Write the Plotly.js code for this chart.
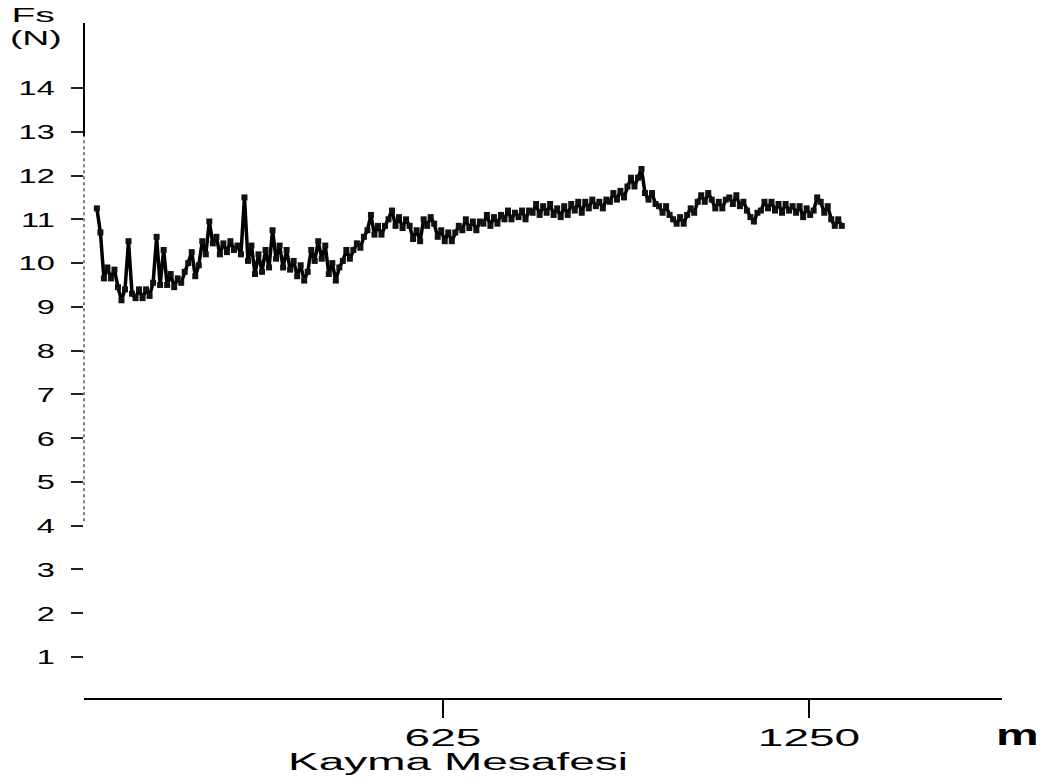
<!DOCTYPE html>
<html>
<head>
<meta charset="utf-8">
<script src="https://cdn.plot.ly/plotly-3.0.1.min.js"></script>
<style>
  html, body { margin: 0; padding: 0; background: #fff; }
  #chart { width: 1051px; height: 783px; }
</style>
</head>
<body>
<div id="chart"></div>
<script>
// Sliding distance (m): evenly spaced samples
const distStart = 34;
const distStep = 6;

// Friction force Fs (N)
const forceValues = [
  11.25, 10.7, 9.65, 9.9, 9.65, 9.85, 9.45, 9.15, 9.4, 10.5,
  9.3, 9.2, 9.4, 9.2, 9.4, 9.25, 9.55, 10.6, 9.5, 10.3,
  9.5, 9.75, 9.45, 9.65, 9.55, 9.8, 10.0, 10.25, 9.7, 9.95,
  10.5, 10.2, 10.95, 10.45, 10.6, 10.2, 10.45, 10.25, 10.5, 10.3,
  10.4, 10.2, 11.5, 10.05, 10.4, 9.75, 10.2, 9.8, 10.3, 9.9,
  10.75, 10.1, 10.4, 9.9, 10.3, 9.85, 10.05, 9.7, 9.95, 9.6,
  9.8, 10.3, 10.05, 10.5, 10.1, 10.4, 9.75, 10.0, 9.6, 9.9,
  10.05, 10.3, 10.1, 10.3, 10.45, 10.35, 10.6, 10.75, 11.1, 10.65,
  10.85, 10.65, 10.85, 11.0, 11.2, 10.85, 11.05, 10.8, 11.0, 10.85,
  10.55, 10.75, 10.5, 11.0, 10.85, 11.05, 10.9, 10.6, 10.75, 10.5,
  10.7, 10.5, 10.7, 10.85, 10.75, 11.0, 10.8, 10.95, 10.75, 10.95,
  10.9, 11.1, 10.85, 11.05, 10.9, 11.1, 11.0, 11.2, 11.0, 11.15,
  11.05, 11.2, 11.0, 11.2, 11.15, 11.35, 11.1, 11.3, 11.15, 11.35,
  11.1, 11.25, 11.05, 11.3, 11.1, 11.35, 11.2, 11.4, 11.15, 11.4,
  11.25, 11.45, 11.3, 11.4, 11.25, 11.45, 11.4, 11.6, 11.45, 11.65,
  11.5, 11.75, 11.95, 11.75, 11.95, 12.15, 11.6, 11.45, 11.6, 11.35,
  11.3, 11.15, 11.3, 11.1, 11.0, 10.9, 11.05, 10.9, 11.1, 11.25,
  11.15, 11.4, 11.55, 11.4, 11.6, 11.45, 11.25, 11.4, 11.25, 11.45,
  11.5, 11.35, 11.55, 11.3, 11.4, 11.2, 11.05, 10.95, 11.15, 11.2,
  11.4, 11.25, 11.4, 11.2, 11.35, 11.15, 11.35, 11.2, 11.3, 11.15,
  11.3, 11.05, 11.25, 11.1, 11.2, 11.5, 11.4, 11.15, 11.3, 11.0,
  10.85, 11.0, 10.85
];

const xTickVals = [625, 1250];
const xTickText = ['625', '1250'];
const yTickVals = [1, 2, 3, 4, 5, 6, 7, 8, 9, 10, 11, 12, 13, 14];
const yTickText = ['1', '2', '3', '4', '5', '6', '7', '8', '9', '10', '11', '12', '13', '14'];

const distance = forceValues.map((_, i) => distStart + i * distStep);

const font = 'Liberation Sans, Arial, sans-serif';

const data = [{
  type: 'scatter',
  mode: 'lines+markers',
  x: distance,
  y: forceValues,
  line: { color: '#000', width: 3.5 },
  marker: { symbol: 'square', size: 6, color: '#111' },
  hoverinfo: 'x+y'
}];

const layout = {
  width: 1051,
  height: 783,
  margin: { l: 84, r: 49, t: 23, b: 85 },
  paper_bgcolor: '#fff',
  plot_bgcolor: '#fff',
  showlegend: false,
  font: { family: font, color: '#000' },
  xaxis: {
    range: [12, 1579.6],
    showgrid: false,
    zeroline: false,
    showline: true,
    linecolor: '#000',
    linewidth: 2,
    ticks: 'outside',
    ticklen: 18,
    tickwidth: 2,
    tickcolor: '#000',
    tickvals: xTickVals,
    ticktext: xTickText,
    ticklabelstandoff: 0,
    tickfont: { family: font, size: 23, color: '#000' }
  },
  yaxis: {
    range: [0.064, 15.485],
    showgrid: false,
    zeroline: false,
    showline: false,
    ticks: 'outside',
    ticklen: 12,
    tickwidth: 2,
    tickcolor: '#222',
    tickvals: yTickVals,
    ticktext: yTickText,
    ticklabelstandoff: 12,
    tickfont: { family: font, size: 21, color: '#000' }
  },
  shapes: [
    { type: 'line', xref: 'paper', yref: 'y', x0: 0, x1: 0, y0: 12.9, y1: 15.485,
      line: { color: '#000', width: 2 } },
    { type: 'line', xref: 'paper', yref: 'y', x0: 0, x1: 0, y0: 4.1, y1: 12.9,
      line: { color: '#555', width: 1.5, dash: 'dot' } }
  ],
  annotations: [
    { text: 'Fs', xref: 'paper', yref: 'paper', x: -0.0414, y: 1.0, xanchor: 'center', yanchor: 'middle',
      xshift: -13, yshift: 8, showarrow: false, font: { family: font, size: 20, color: '#000' } },
    { text: '(N)', xref: 'paper', yref: 'paper', x: -0.0414, y: 1.0, xanchor: 'center', yanchor: 'middle',
      xshift: -10, yshift: -15, showarrow: false, font: { family: font, size: 20, color: '#000' } },
    { text: 'Kayma Mesafesi', xref: 'x', yref: 'paper', x: 650, y: 0, xanchor: 'center', yanchor: 'middle',
      yshift: -64, showarrow: false, font: { family: font, size: 23, color: '#000' } },
    { text: '<b>m</b>', xref: 'paper', yref: 'paper', x: 1.0, y: 0, xanchor: 'center', yanchor: 'middle',
      xshift: 15, yshift: -36, showarrow: false, font: { family: font, size: 30, color: '#000' } }
  ]
};

const stretchAnn = [1.95, 1.87, 2.0, 1.6];

Plotly.newPlot('chart', data, layout, { displayModeBar: false, staticPlot: true }).then(gd => {
  const stretch = (el, k) => {
    const x = parseFloat(el.getAttribute('x')) || 0;
    const prev = el.getAttribute('transform') || '';
    el.setAttribute('transform', prev + ' translate(' + x + ',0) scale(' + k + ',1) translate(' + (-x) + ',0)');
  };
  gd.querySelectorAll('.xtick text').forEach(t => stretch(t, 2.0));
  gd.querySelectorAll('.ytick text').forEach(t => stretch(t, 1.55));
  gd.querySelectorAll('.annotation').forEach((a, i) => {
    const t = a.querySelector('text.annotation-text');
    if (t) stretch(t, stretchAnn[i] || 1);
  });
});
</script>
</body>
</html>
